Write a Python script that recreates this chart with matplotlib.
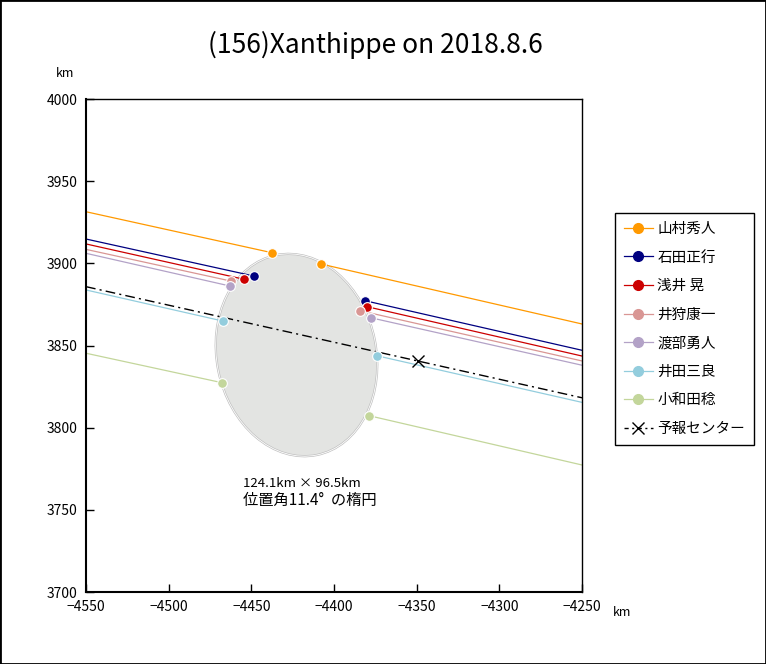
import numpy as np
import matplotlib
matplotlib.use("Agg")
import matplotlib.pyplot as plt
from matplotlib.patches import Ellipse, Rectangle
from matplotlib.lines import Line2D

plt.rcParams['font.family'] = ['Noto Sans CJK JP', 'DejaVu Sans']

### data (km)

observers = ["山村秀人", "石田正行", "浅井 晃", "井狩康一", "渡部勇人", "井田三良", "小和田稔"]
colors = ["#FF9900", "#000080", "#CC0000", "#D99694", "#B3A2C7", "#93CDDD", "#C3D69B"]

# chord: y at left edge, disappearance point, reappearance point, y at right edge
y_left = [3931.4, 3914.8, 3911.8, 3908.5, 3906.1, 3883.8, 3845.3]
d_x = [-4437.7, -4448.6, -4454.4, -4462.3, -4462.9, -4467.3, -4467.9]
d_y = [3906.5, 3892.3, 3890.3, 3889.2, 3886.2, 3864.9, 3827.4]
r_x = [-4407.9, -4381.4, -4379.9, -4384.3, -4377.8, -4374.2, -4378.8]
r_y = [3899.6, 3877.3, 3873.6, 3871.2, 3866.9, 3843.8, 3807.3]
y_right = [3863.1, 3847.1, 3843.6, 3840.6, 3838.0, 3815.4, 3777.3]

# prediction center line
pred_y = [3885.8, 3818.2]
pred_center = (-4349.0, 3840.6)

# fitted ellipse
ell_center = (-4422.7, 3844.2)
ell_major = 124.1
ell_minor = 96.5
ell_pa = 11.4

xmin, xmax = -4550, -4250
ymin, ymax = 3700, 4000

###figure

fig = plt.figure(figsize=(7.66, 6.64), dpi=100)
ax = fig.add_axes([0.1123, 0.1084, 0.6475, 0.7425])

ell = Ellipse(ell_center, ell_minor, ell_major, angle=ell_pa,
              facecolor="#E3E4E2", edgecolor="#C0C0C0", lw=1.6, zorder=1)
ax.add_patch(ell)
ell2 = Ellipse(ell_center, ell_minor, ell_major, angle=ell_pa,
               facecolor="none", edgecolor="white", lw=0.6, zorder=1)
ax.add_patch(ell2)

handles = []
for i in range(len(observers)):
    c = colors[i]
    ax.plot([xmin, d_x[i]], [y_left[i], d_y[i]], color=c, lw=0.9, zorder=2)
    ax.plot([r_x[i], xmax], [r_y[i], y_right[i]], color=c, lw=0.9, zorder=2)
    ax.plot([d_x[i], r_x[i]], [d_y[i], r_y[i]], ls="none", marker="o", ms=7,
            mfc=c, mec="white", mew=0.8, zorder=4)
    handles.append(Line2D([], [], color=c, lw=0.9, marker="o", ms=7,
                          mfc=c, mec=c, label=observers[i]))

ax.plot([xmin, xmax], pred_y, color="black", lw=1.0, ls=(0, (7, 3, 1.5, 3)), zorder=3)
ax.plot([pred_center[0]], [pred_center[1]], ls="none", marker="x", ms=8,
        mec="black", mew=1.0, zorder=5)
handles.append(Line2D([], [], color="black", lw=1.0, ls=(0, (3, 2.5, 1.5, 2.5)),
                      marker="x", ms=8, mec="black", label="予報センター"))

ax.set_xlim(xmin, xmax)
ax.set_ylim(ymin, ymax)
ax.set_xticks(np.arange(xmin, xmax + 1, 50))
ax.set_yticks(np.arange(ymin, ymax + 1, 50))
ax.tick_params(direction="in", length=6, width=1, labelsize=10, pad=6)
for s in ax.spines.values():
    s.set_color("black")
    s.set_linewidth(1.0)
ax.spines["left"].set_linewidth(1.5)
ax.spines["bottom"].set_linewidth(1.5)

ax.text(-4455, 3766, "124.1km × 96.5km", fontsize=9.5, va="center")
ax.text(-4455, 3755.5, "位置角11.4°  の楕円", fontsize=11, va="center")

fig.text(0.49, 0.932, "(156)Xanthippe on 2018.8.6", fontsize=19, ha="center", va="center")
fig.text(0.085, 0.89, "km", fontsize=9, ha="center", va="center")
fig.text(0.812, 0.078, "km", fontsize=9, ha="center", va="center")

leg = fig.legend(handles=handles, loc="upper left", bbox_to_anchor=(0.803, 0.679),
                 fontsize=10.5, frameon=True, fancybox=False, edgecolor="black",
                 framealpha=1, handlelength=2.0, labelspacing=1.0,
                 borderpad=0.6, handletextpad=0.3, borderaxespad=0)
leg.get_frame().set_linewidth(1.0)

fig.patches.append(Rectangle((0, 0), 1, 1, transform=fig.transFigure, fill=False,
                             edgecolor="black", lw=2, zorder=10))

plt.savefig("out.png", dpi=100)
